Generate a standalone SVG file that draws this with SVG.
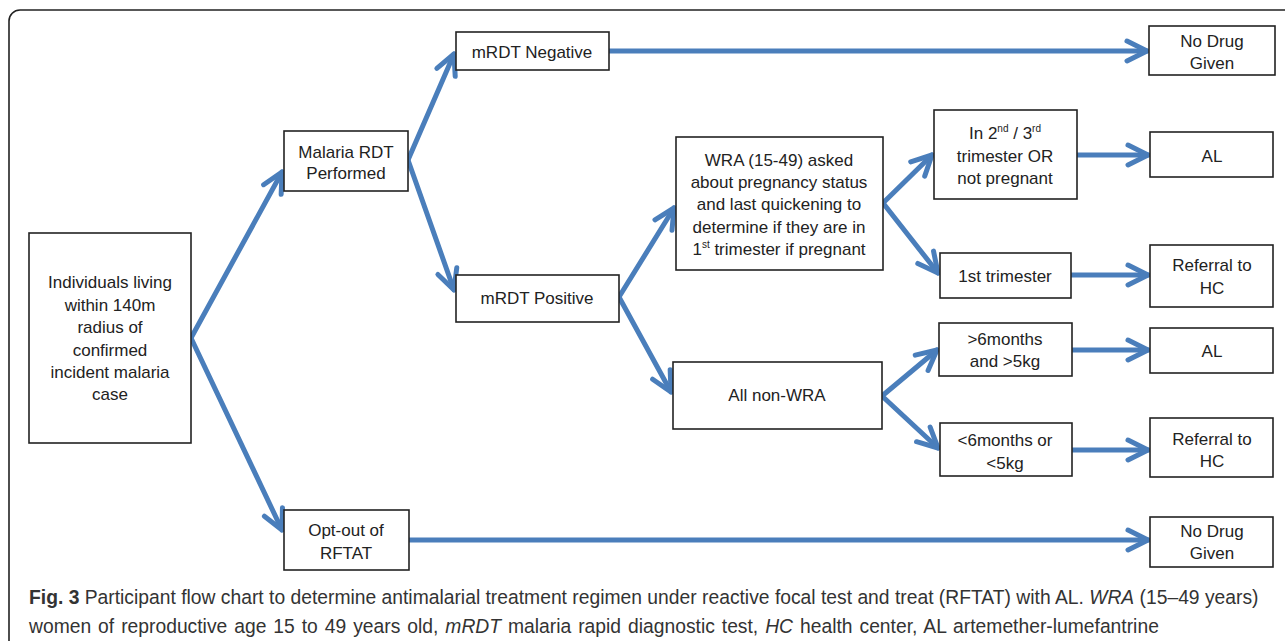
<svg xmlns="http://www.w3.org/2000/svg" width="1285" height="641" viewBox="0 0 1285 641">
<style>
.box{fill:#fff;stroke:#222;stroke-width:1.6}
.t{font-family:"Liberation Sans",Arial,sans-serif;font-size:17px;fill:#222;text-anchor:middle}
.sup{font-size:10px}
.c{stroke:#4A7EBB;stroke-width:5;fill:none;stroke-linecap:round;stroke-linejoin:round;marker-end:url(#ah)}
.cap{font-family:"Liberation Sans",Arial,sans-serif;font-size:19.3px;fill:#333}
.b{font-weight:bold}
.i{font-style:italic}
</style>
<defs>
<marker id="ah" markerUnits="userSpaceOnUse" markerWidth="30" markerHeight="30" refX="22" refY="12" orient="auto" overflow="visible">
<path d="M2,2 L22,12 L2,22" fill="none" stroke="#4A7EBB" stroke-width="5" stroke-linecap="round" stroke-linejoin="round"/>
</marker>
</defs>
<rect width="1285" height="641" fill="#fff"/>
<rect x="9" y="10" width="1310" height="650" rx="11" fill="none" stroke="#222" stroke-width="1.6"/>

<g id="connectors">
<path class="c" d="M191,338 L282,172"/>
<path class="c" d="M191,338 L282,530"/>
<path class="c" d="M408,160 L454,54"/>
<path class="c" d="M408,160 L454,290"/>
<path class="c" d="M609,51 L1147,51"/>
<path class="c" d="M619,297 L674,208"/>
<path class="c" d="M619,297 L671,392"/>
<path class="c" d="M883,203 L932,155"/>
<path class="c" d="M883,203 L938,273"/>
<path class="c" d="M1077,155 L1148,155"/>
<path class="c" d="M1071,275 L1148,275"/>
<path class="c" d="M882,396 L937,350"/>
<path class="c" d="M882,396 L938,448"/>
<path class="c" d="M1072,350 L1148,350"/>
<path class="c" d="M1072,450 L1148,450"/>
<path class="c" d="M409,540 L1148,540"/>
</g>

<g id="n-individuals"><rect class="box" x="29" y="233" width="162" height="210"/>
<text class="t" x="110" y="288">Individuals living</text>
<text class="t" x="110" y="311">within 140m</text>
<text class="t" x="110" y="333">radius of</text>
<text class="t" x="110" y="356">confirmed</text>
<text class="t" x="110" y="378">incident malaria</text>
<text class="t" x="110" y="400">case</text></g>

<g id="n-rdt"><rect class="box" x="284" y="131" width="124" height="60"/>
<text class="t" x="346" y="158">Malaria RDT</text>
<text class="t" x="346" y="179">Performed</text></g>

<g id="n-neg"><rect class="box" x="456" y="32" width="153" height="38"/>
<text class="t" x="532" y="58">mRDT Negative</text></g>

<g id="n-pos"><rect class="box" x="456" y="275" width="163" height="47"/>
<text class="t" x="537" y="304">mRDT Positive</text></g>

<g id="n-optout"><rect class="box" x="284" y="510" width="125" height="60"/>
<text class="t" x="346" y="536">Opt-out of</text>
<text class="t" x="346" y="559">RFTAT</text></g>

<g id="n-wra"><rect class="box" x="676" y="137" width="207" height="133"/>
<text class="t" x="779" y="166">WRA (15-49) asked</text>
<text class="t" x="779" y="188">about pregnancy status</text>
<text class="t" x="779" y="210">and last quickening to</text>
<text class="t" x="779" y="233">determine if they are in</text>
<text class="t" x="779" y="255">1<tspan class="sup" dy="-7">st</tspan><tspan dy="7"> trimester if pregnant</tspan></text></g>

<g id="n-nonwra"><rect class="box" x="673" y="362" width="209" height="67"/>
<text class="t" x="777" y="401">All non-WRA</text></g>

<g id="n-tri23"><rect class="box" x="934" y="110" width="143" height="89"/>
<text class="t" x="1005" y="139">In 2<tspan class="sup" dy="-7">nd</tspan><tspan dy="7"> / 3</tspan><tspan class="sup" dy="-7">rd</tspan></text>
<text class="t" x="1005" y="162">trimester OR</text>
<text class="t" x="1005" y="184">not pregnant</text></g>

<g id="n-tri1"><rect class="box" x="940" y="253" width="131" height="45"/>
<text class="t" x="1005" y="282">1st trimester</text></g>

<g id="n-gt6"><rect class="box" x="939" y="323" width="133" height="53"/>
<text class="t" x="1005" y="345">&gt;6months</text>
<text class="t" x="1005" y="367">and &gt;5kg</text></g>

<g id="n-lt6"><rect class="box" x="940" y="423" width="132" height="53"/>
<text class="t" x="1005" y="446">&lt;6months or</text>
<text class="t" x="1005" y="469">&lt;5kg</text></g>

<g id="n-nodrug1"><rect class="box" x="1149" y="26" width="126" height="49"/>
<text class="t" x="1212" y="47">No Drug</text>
<text class="t" x="1212" y="69">Given</text></g>

<g id="n-al1"><rect class="box" x="1150" y="132" width="123" height="45"/>
<text class="t" x="1212" y="162">AL</text></g>

<g id="n-ref1"><rect class="box" x="1150" y="245" width="123" height="62"/>
<text class="t" x="1212" y="271">Referral to</text>
<text class="t" x="1212" y="294">HC</text></g>

<g id="n-al2"><rect class="box" x="1150" y="328" width="123" height="45"/>
<text class="t" x="1212" y="357">AL</text></g>

<g id="n-ref2"><rect class="box" x="1150" y="418" width="123" height="59"/>
<text class="t" x="1212" y="445">Referral to</text>
<text class="t" x="1212" y="467">HC</text></g>

<g id="n-nodrug2"><rect class="box" x="1150" y="517" width="123" height="50"/>
<text class="t" x="1212" y="537">No Drug</text>
<text class="t" x="1212" y="559">Given</text></g>

<g id="caption">
<text class="cap" x="29" y="604"><tspan class="b">Fig. 3</tspan> Participant flow chart to determine antimalarial treatment regimen under reactive focal test and treat (RFTAT) with AL. <tspan class="i">WRA</tspan> (15–49 years)</text>
<text class="cap" x="29" y="633" word-spacing="1.6">women of reproductive age 15 to 49 years old, <tspan class="i">mRDT</tspan> malaria rapid diagnostic test, <tspan class="i">HC</tspan> health center, AL artemether-lumefantrine</text>
</g>
</svg>
